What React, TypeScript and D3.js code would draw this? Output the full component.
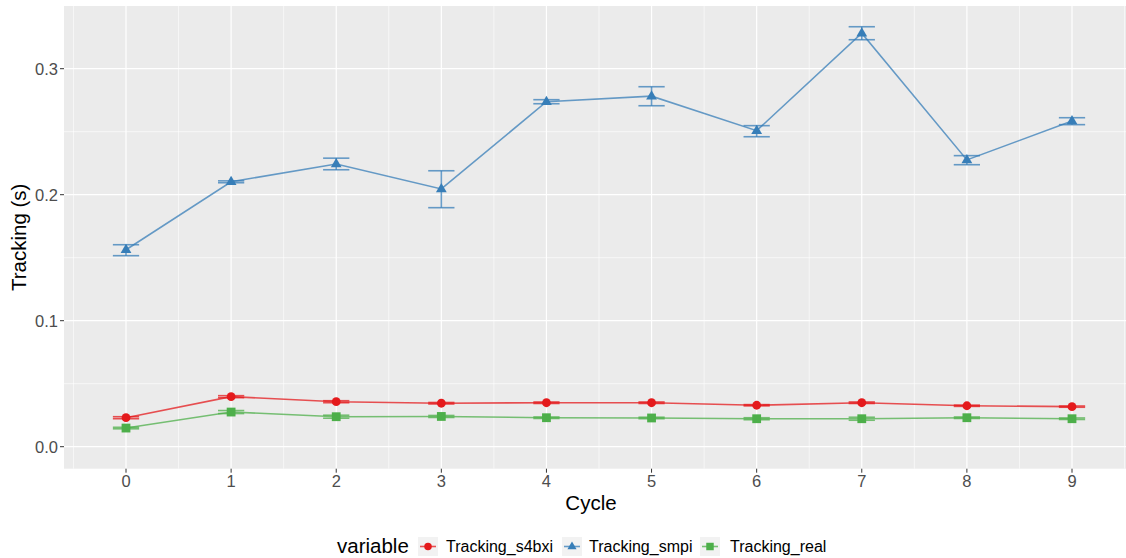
import React from "react";
import * as d3 from "d3";

const cycles = [0, 1, 2, 3, 4, 5, 6, 7, 8, 9];

// mean values per cycle
const s4bxi = [0.023, 0.0397, 0.0357, 0.0345, 0.0349, 0.0349, 0.0329, 0.0349, 0.0325, 0.0318];
const s4bxiErr = [0.0008, 0.0008, 0.0008, 0.0006, 0.0006, 0.0006, 0.0005, 0.0006, 0.0005, 0.0005];
const smpi = [0.1563, 0.2103, 0.2244, 0.2046, 0.2738, 0.2782, 0.2508, 0.3282, 0.2276, 0.2585];
const smpiLo = [0.1516, 0.2095, 0.2198, 0.1897, 0.2722, 0.2706, 0.246, 0.323, 0.2238, 0.2556];
const smpiHi = [0.1603, 0.211, 0.229, 0.219, 0.2754, 0.2857, 0.2548, 0.3333, 0.231, 0.2611];
const real = [0.0148, 0.0275, 0.0238, 0.024, 0.023, 0.0228, 0.0222, 0.0222, 0.023, 0.0222];
const realErr = [0.0006, 0.0012, 0.0012, 0.0008, 0.0006, 0.0006, 0.0008, 0.0012, 0.0006, 0.0006];

const yTicks = [0, 0.1, 0.2, 0.3];
const yMinor = [0.05, 0.15, 0.25];
const xMinor = [-0.5, 0.5, 1.5, 2.5, 3.5, 4.5, 5.5, 6.5, 7.5, 8.5, 9.5];

const RED = "#E41A1C";
const BLUE = "#377EB8";
const GREEN = "#4DAF4A";
const FONT = "'Liberation Sans', Arial, sans-serif";

const panel = { left: 64, top: 6, right: 1134, bottom: 468.7 };

export default function App() {
  const x = d3.scaleLinear().domain([0, 9]).range([126, 1072]);
  const y = d3.scaleLinear().domain([0, 0.3]).range([446.7, 68.7]);
  const line = d3
    .line<[number, number]>()
    .x((d) => x(d[0]))
    .y((d) => y(d[1]));
  const hw = 0.125;

  const series = [
    {
      name: "Tracking_s4bxi",
      color: RED,
      vals: s4bxi,
      lo: s4bxi.map((v, i) => v - s4bxiErr[i]),
      hi: s4bxi.map((v, i) => v + s4bxiErr[i]),
      shape: "circle",
    },
    { name: "Tracking_smpi", color: BLUE, vals: smpi, lo: smpiLo, hi: smpiHi, shape: "triangle" },
    {
      name: "Tracking_real",
      color: GREEN,
      vals: real,
      lo: real.map((v, i) => v - realErr[i]),
      hi: real.map((v, i) => v + realErr[i]),
      shape: "square",
    },
  ];

  const marker = (shape: string, cx: number, cy: number, color: string, s = 1) => {
    if (shape === "circle") return <circle cx={cx} cy={cy} r={4.4 * s} fill={color} />;
    if (shape === "triangle") {
      const r = 6 * s;
      return (
        <path
          d={`M${cx},${cy - r}L${cx + r * 0.9},${cy + r * 0.55}L${cx - r * 0.9},${cy + r * 0.55}Z`}
          fill={color}
        />
      );
    }
    return <rect x={cx - 4.4 * s} y={cy - 4.4 * s} width={8.8 * s} height={8.8 * s} fill={color} />;
  };

  const legendItems = [
    { name: "Tracking_s4bxi", color: RED, shape: "circle", kx: 418, tx: 446 },
    { name: "Tracking_smpi", color: BLUE, shape: "triangle", kx: 562, tx: 589 },
    { name: "Tracking_real", color: GREEN, shape: "square", kx: 700, tx: 730 },
  ];

  return (
    <svg
      width={1126}
      height={558}
      style={{ position: "absolute", left: 0, top: 0, background: "#fff" }}
      fontFamily={FONT}
    >
      <rect
        x={panel.left}
        y={panel.top}
        width={panel.right - panel.left}
        height={panel.bottom - panel.top}
        fill="#EBEBEB"
      />
      {yMinor.map((t) => (
        <line key={"ym" + t} x1={panel.left} x2={panel.right} y1={y(t)} y2={y(t)} stroke="#fff" strokeWidth={0.6} />
      ))}
      {xMinor.map((t) => (
        <line key={"xm" + t} x1={x(t)} x2={x(t)} y1={panel.top} y2={panel.bottom} stroke="#fff" strokeWidth={0.6} />
      ))}
      {yTicks.map((t) => (
        <line key={"y" + t} x1={panel.left} x2={panel.right} y1={y(t)} y2={y(t)} stroke="#fff" strokeWidth={1.2} />
      ))}
      {cycles.map((t) => (
        <line key={"x" + t} x1={x(t)} x2={x(t)} y1={panel.top} y2={panel.bottom} stroke="#fff" strokeWidth={1.2} />
      ))}

      {series.map((s) => (
        <g key={s.name}>
          {cycles.map((c, i) => (
            <g key={c} stroke={s.color} strokeOpacity={0.75} strokeWidth={1.6} fill="none">
              <line x1={x(c - hw)} x2={x(c + hw)} y1={y(s.hi[i])} y2={y(s.hi[i])} />
              <line x1={x(c - hw)} x2={x(c + hw)} y1={y(s.lo[i])} y2={y(s.lo[i])} />
              <line x1={x(c)} x2={x(c)} y1={y(s.hi[i])} y2={y(s.lo[i])} />
            </g>
          ))}
          <path
            d={line(cycles.map((c, i) => [c, s.vals[i]] as [number, number])) || ""}
            fill="none"
            stroke={s.color}
            strokeOpacity={0.75}
            strokeWidth={1.6}
          />
          {cycles.map((c, i) => (
            <g key={"p" + c}>{marker(s.shape, x(c), y(s.vals[i]), s.color)}</g>
          ))}
        </g>
      ))}

      {yTicks.map((t) => (
        <g key={"yl" + t}>
          <line x1={panel.left - 4} x2={panel.left} y1={y(t)} y2={y(t)} stroke="#333" strokeWidth={1} />
          <text x={panel.left - 6} y={y(t)} dy="0.36em" textAnchor="end" fontSize={16.5} fill="#4D4D4D">
            {d3.format(".1f")(t)}
          </text>
        </g>
      ))}
      {cycles.map((t) => (
        <g key={"xl" + t}>
          <line x1={x(t)} x2={x(t)} y1={panel.bottom} y2={panel.bottom + 4} stroke="#333" strokeWidth={1} />
          <text x={x(t)} y={panel.bottom + 18.5} textAnchor="middle" fontSize={16.5} fill="#4D4D4D">
            {t}
          </text>
        </g>
      ))}

      <text x={591} y={510} textAnchor="middle" fontSize={20.5} fill="#000">
        Cycle
      </text>
      <text
        transform={`translate(26,${(panel.top + panel.bottom) / 2}) rotate(-90)`}
        textAnchor="middle"
        fontSize={20.5}
        fill="#000"
      >
        Tracking (s)
      </text>

      <text x={337} y={553} fontSize={20.5} fill="#000">
        variable
      </text>
      {legendItems.map((l) => (
        <g key={l.name}>
          <rect x={l.kx} y={537} width={20} height={19} fill="#F2F2F2" />
          <line x1={l.kx + 2} x2={l.kx + 18} y1={546.5} y2={546.5} stroke={l.color} strokeOpacity={0.75} strokeWidth={1.6} />
          {marker(l.shape, l.kx + 10, 546.5, l.color, 0.85)}
          <text x={l.tx} y={546.5} dy="0.35em" fontSize={16} fill="#000">
            {l.name}
          </text>
        </g>
      ))}
    </svg>
  );
}
